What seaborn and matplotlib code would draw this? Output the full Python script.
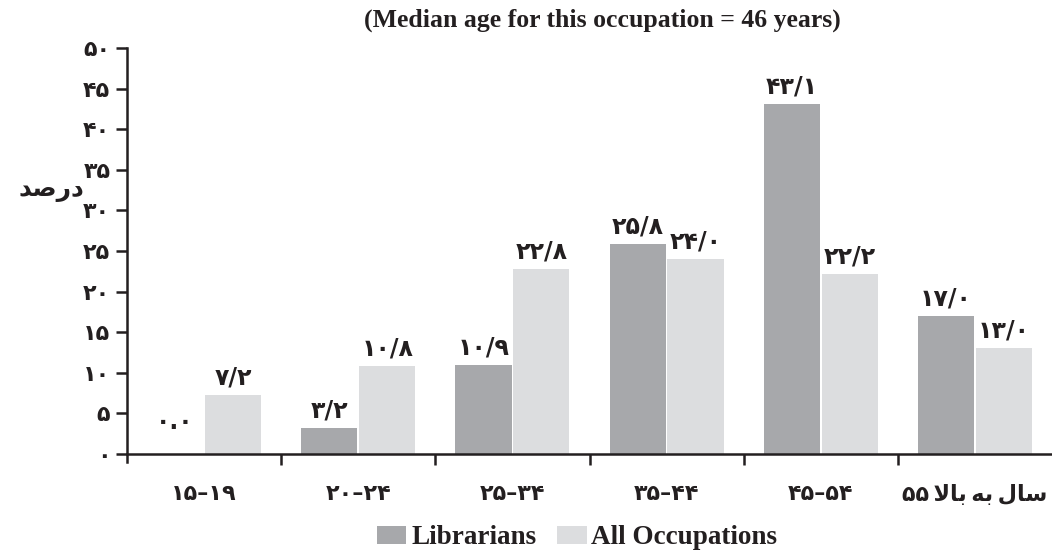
import matplotlib
matplotlib.use("Agg")
import matplotlib.pyplot as plt
import seaborn as sns
import pandas as pd
from matplotlib.patches import Patch

# ---- data ----
categories = ["15-19", "20-24", "25-34", "35-44", "45-54", "55+"]
# tick labels (Persian digits; last label in visual order with presentation forms)
tick_labels = ["۱۵–۱۹", "۲۰–۲۴", "۲۵–۳۴", "۳۵–۴۴", "۴۵–۵۴",
               "۵۵\u2009\uFEFB\uFE8E\uFE91\u2009\uFEEA\uFE91\u2009\uFEDD\uFE8E\uFEB3"]
librarians = [0.0, 3.2, 10.9, 25.8, 43.1, 17.0]
all_occupations = [7.2, 10.8, 22.8, 24.0, 22.2, 13.0]
series_names = ["Librarians", "All Occupations"]
y_ticks = [0, 5, 10, 15, 20, 25, 30, 35, 40, 45, 50]
ylabel_text = "\uFEAA\uFEBB\uFEAD\uFEA9"  # درصد in visual order
title_text = "(Median age for this occupation = 46 years)"

colors = ["#a7a8ab", "#dcdddf"]
ink = "#231f20"

fa_digits = str.maketrans("0123456789", "۰۱۲۳۴۵۶۷۸۹")


def fa_num(v):
    if v == 0:
        return "۰.۰"
    return f"{v:.1f}".replace(".", "/").translate(fa_digits)


df = pd.DataFrame({
    "category": categories * 2,
    "value": librarians + all_occupations,
    "series": [series_names[0]] * len(categories) + [series_names[1]] * len(categories),
})

sns.set_theme(style="white")
plt.rcParams["font.family"] = ["DejaVu Sans"]
plt.rcParams["font.weight"] = "bold"

fig = plt.figure(figsize=(10.52, 5.54), dpi=100)
ax = fig.add_axes([127 / 1052, 92 / 554, 1 - 127 / 1052, (462 - 48) / 554])

sns.barplot(data=df, x="category", y="value", hue="series", order=categories,
            hue_order=series_names, palette=colors, width=0.75, gap=0.03,
            saturation=1, legend=False, ax=ax, edgecolor="none", linewidth=0)

label_kw = dict(color=ink, family="DejaVu Sans", weight="bold", size=17)
for cont, vals in zip(ax.containers, [librarians, all_occupations]):
    ax.bar_label(cont, labels=[fa_num(v) if v != 0 else "" for v in vals],
                 padding=4, **label_kw)
    if any(v == 0 for v in vals):
        ax.bar_label(cont, labels=[fa_num(v) if v == 0 else "" for v in vals],
                     padding=14, **label_kw)

ax.set_xlim(-0.5, 5.5)
ax.set_ylim(-1, 50)
ax.set_xlabel("")
ax.set_ylabel("")

ax.set_yticks(y_ticks, labels=[str(t).translate(fa_digits) for t in y_ticks])
ax.set_xticks(range(len(categories)), labels=tick_labels)
ax.set_xticks([i + 0.5 for i in range(len(categories) - 1)], minor=True)

ax.tick_params(axis="x", which="major", length=0, pad=22, colors=ink,
               labelsize=16, labelfontfamily="DejaVu Sans")
ax.tick_params(axis="x", which="minor", length=8, width=1.8, direction="out",
               colors=ink, bottom=True, labelbottom=False)
ax.tick_params(axis="y", length=8, width=1.8, direction="out", left=True,
               pad=4, colors=ink, labelsize=16, labelfontfamily="DejaVu Sans")

for s in ["top", "right"]:
    ax.spines[s].set_visible(False)
ax.spines["bottom"].set_position(("data", 0))
for s in ["left", "bottom"]:
    ax.spines[s].set_color(ink)
    ax.spines[s].set_linewidth(1.8)

fig.text(51 / 1052, 1 - 190 / 554, ylabel_text, ha="center", va="center",
         color=ink, family="DejaVu Sans", weight="bold", size=18)
fig.text(602 / 1052, 1 - 20 / 554, title_text, ha="center", va="center",
         family="Liberation Serif", weight="bold", size=18.5, color=ink)

handles = [Patch(facecolor=c, edgecolor="none") for c in colors]
leg = fig.legend(handles, series_names, loc="center", bbox_to_anchor=(577 / 1052, 1 - 538 / 554),
                 ncol=2, frameon=False, handlelength=1.1, handleheight=0.6,
                 handletextpad=0.18, columnspacing=0.75,
                 prop=dict(family="Liberation Serif", weight="bold", size=19.5))
for t in leg.get_texts():
    t.set_color(ink)

fig.savefig("out.png", dpi=100)
